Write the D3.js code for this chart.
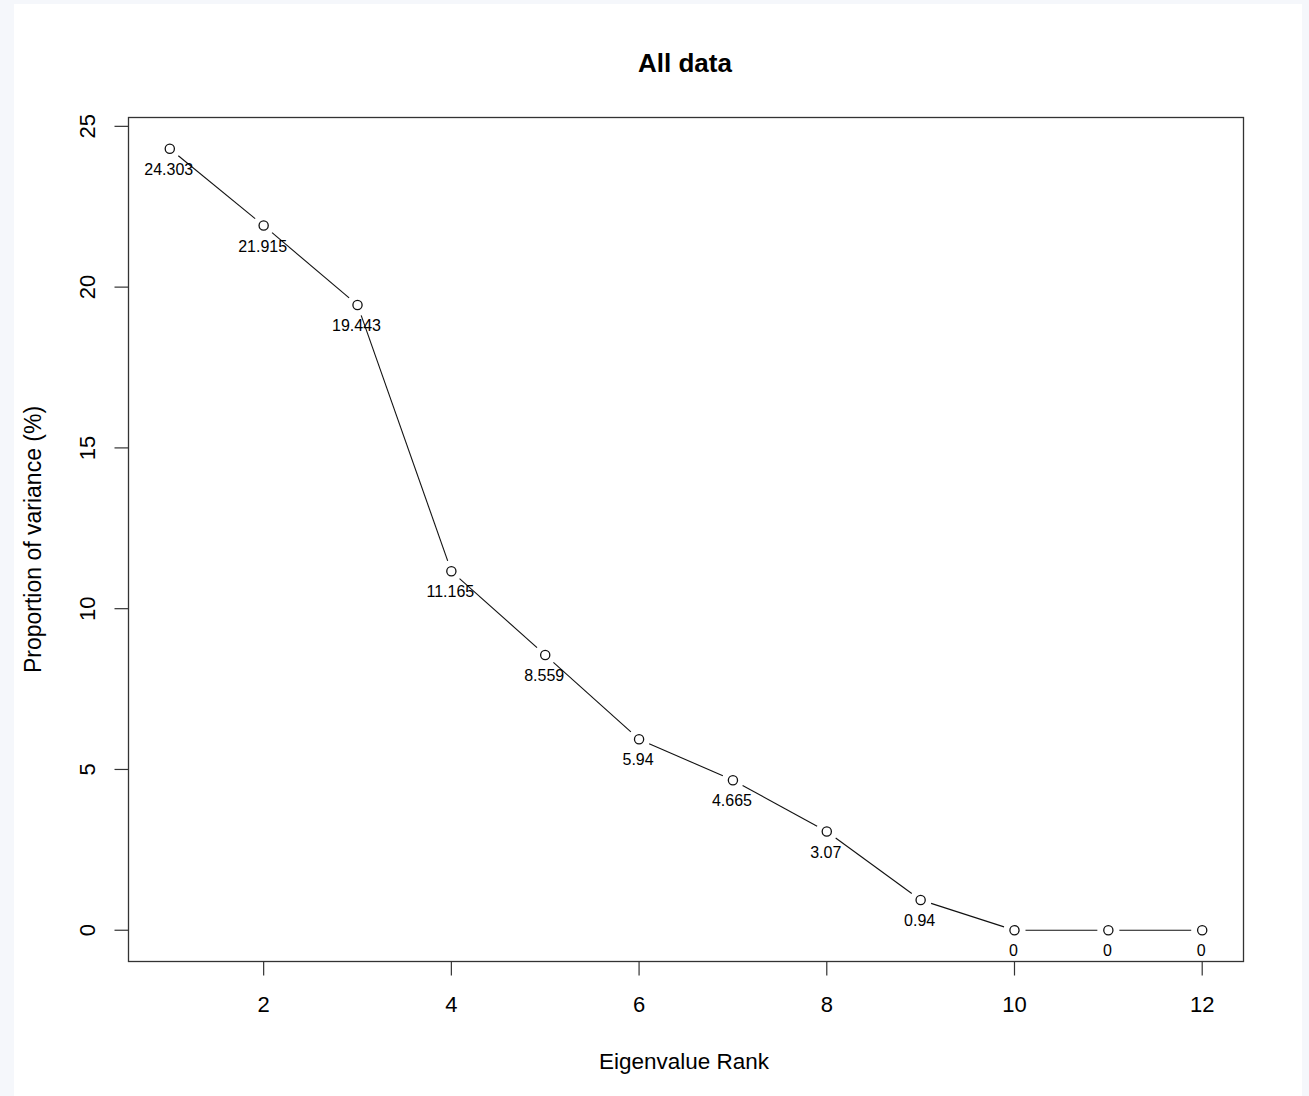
<!DOCTYPE html>
<html>
<head>
<meta charset="utf-8">
<script src="https://cdn.jsdelivr.net/npm/d3@7"></script>
<style>
  body { margin: 0; background: #f5f7fb; }
  svg { display: block; }
  text { font-family: "Liberation Sans", Arial, sans-serif; fill: #000; }
</style>
</head>
<body>
<svg id="chart" width="1309" height="1096"></svg>
<script>
// chart data
var ranks = [1, 2, 3, 4, 5, 6, 7, 8, 9, 10, 11, 12];
var variance = [24.303, 21.915, 19.443, 11.165, 8.559, 5.94, 4.665, 3.07, 0.94, 0, 0, 0];
var pointLabels = ['24.303', '21.915', '19.443', '11.165', '8.559', '5.94', '4.665', '3.07', '0.94', '0', '0', '0'];
var xTicks = [2, 4, 6, 8, 10, 12];
var yTicks = [0, 5, 10, 15, 20, 25];

var svg = d3.select('#chart');

// white panel
svg.append('rect')
    .attr('x', 14).attr('y', 4)
    .attr('width', 1288).attr('height', 1092)
    .attr('fill', '#fff');

var box = { left: 128.5, right: 1243.5, top: 117.5, bottom: 961.5 };

// R style 4% padding on both scales
var x = d3.scaleLinear().domain([0.56, 12.44]).range([box.left, box.right]);
var y = d3.scaleLinear().domain([-0.9721, 25.2751]).range([box.bottom, box.top]);

// plot box
svg.append('rect')
    .attr('x', box.left).attr('y', box.top)
    .attr('width', box.right - box.left).attr('height', box.bottom - box.top)
    .attr('fill', 'none').attr('stroke', '#333').attr('stroke-width', 1.3);

// y axis
var yAxis = svg.append('g');
yAxis.append('line')
    .attr('x1', box.left).attr('x2', box.left)
    .attr('y1', y(0)).attr('y2', y(25))
    .attr('stroke', '#333');
yAxis.selectAll('.ytick').data(yTicks).enter().append('line')
    .attr('x1', box.left - 14).attr('x2', box.left)
    .attr('y1', function(d){ return y(d); }).attr('y2', function(d){ return y(d); })
    .attr('stroke', '#333').attr('stroke-width', 1.2);
yAxis.selectAll('.ylab').data(yTicks).enter().append('text')
    .attr('transform', function(d){ return 'translate(95,' + y(d) + ') rotate(-90)'; })
    .attr('text-anchor', 'middle')
    .attr('font-size', 22)
    .text(function(d){ return d; });

// x axis
var xAxis = svg.append('g');
xAxis.selectAll('.xtick').data(xTicks).enter().append('line')
    .attr('x1', function(d){ return x(d); }).attr('x2', function(d){ return x(d); })
    .attr('y1', box.bottom).attr('y2', box.bottom + 14)
    .attr('stroke', '#333').attr('stroke-width', 1.2);
xAxis.selectAll('.xlab').data(xTicks).enter().append('text')
    .attr('x', function(d){ return x(d); })
    .attr('y', 1012)
    .attr('text-anchor', 'middle')
    .attr('font-size', 22)
    .text(function(d){ return d; });

// titles
svg.append('text')
    .attr('x', 685).attr('y', 72)
    .attr('text-anchor', 'middle')
    .attr('font-size', 26).attr('font-weight', 'bold')
    .text('All data');
svg.append('text')
    .attr('x', 684).attr('y', 1069)
    .attr('text-anchor', 'middle')
    .attr('font-size', 22.5)
    .text('Eigenvalue Rank');
svg.append('text')
    .attr('transform', 'translate(41,' + ((box.top + box.bottom) / 2) + ') rotate(-90)')
    .attr('text-anchor', 'middle')
    .attr('font-size', 23)
    .text('Proportion of variance (%)');

// line segments with gaps (type = "b")
var pts = ranks.map(function(r, i){ return { x: x(r), y: y(variance[i]) }; });
var gap = 11;
var segs = [];
for (var i = 0; i < pts.length - 1; i++) {
    var a = pts[i], b = pts[i + 1];
    var dx = b.x - a.x, dy = b.y - a.y;
    var len = Math.sqrt(dx * dx + dy * dy);
    if (len > 2 * gap) {
        segs.push({
            x1: a.x + dx / len * gap, y1: a.y + dy / len * gap,
            x2: b.x - dx / len * gap, y2: b.y - dy / len * gap
        });
    }
}
svg.append('g').selectAll('line').data(segs).enter().append('line')
    .attr('x1', function(d){ return d.x1; }).attr('y1', function(d){ return d.y1; })
    .attr('x2', function(d){ return d.x2; }).attr('y2', function(d){ return d.y2; })
    .attr('stroke', '#111').attr('stroke-width', 1.1);

// points
svg.append('g').selectAll('circle').data(ranks).enter().append('circle')
    .attr('cx', function(d){ return x(d); })
    .attr('cy', function(d, i){ return y(variance[i]); })
    .attr('r', 4.6)
    .attr('fill', '#fff').attr('stroke', '#111').attr('stroke-width', 1.3);

// point labels
svg.append('g').selectAll('text').data(ranks).enter().append('text')
    .attr('x', function(d){ return x(d) - 1; })
    .attr('y', function(d, i){ return y(variance[i]) + 26; })
    .attr('text-anchor', 'middle')
    .attr('font-size', 16)
    .attr('fill', '#222')
    .text(function(d, i){ return pointLabels[i]; });
</script>
</body>
</html>
